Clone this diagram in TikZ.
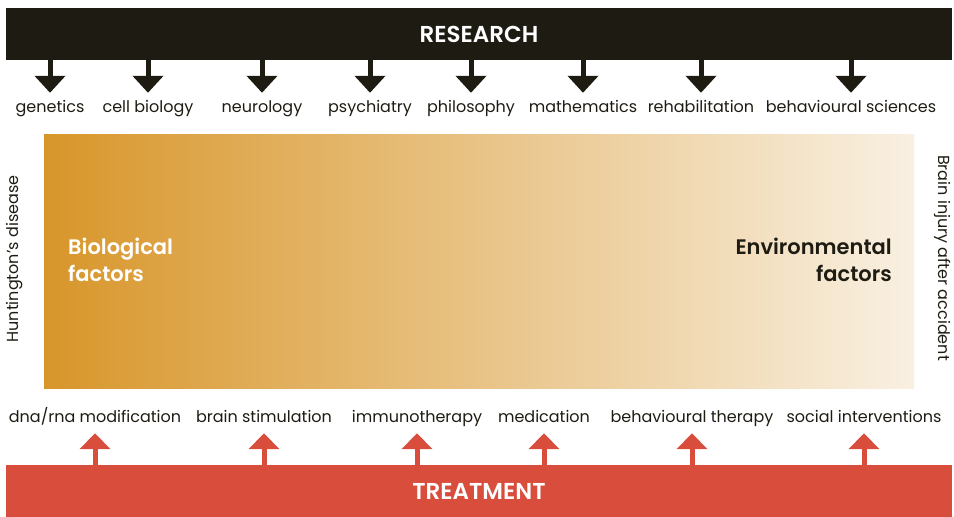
\documentclass[tikz,border=0pt]{standalone}
\usepackage{fontspec}
\setmainfont{Poppins}[BoldFont={Poppins SemiBold}]
\usetikzlibrary{arrows.meta}

\definecolor{barblack}{HTML}{1E1C12}
\definecolor{barred}{HTML}{D94D3D}
\definecolor{bioorange}{HTML}{D8962A}
\definecolor{envcream}{HTML}{F9F0E2}

\tikzset{
  bar/.style={fill=#1, minimum width=946pt, minimum height=52pt, inner sep=0pt,
    text=white, font=\fontsize{23}{24}\selectfont\bfseries},
  field/.style={inner sep=0pt, text height=12pt, text depth=4pt, text=barblack,
    font=\fontsize{16}{20}\selectfont},
  factor/.style={inner sep=0pt, font=\fontsize{21}{27}\selectfont\bfseries},
  down/.style={draw=barblack, line width=5pt, shorten >=7pt,
    -{Triangle[width=30pt,length=17pt]}},
  up/.style={draw=barred, line width=5pt, shorten >=7pt,
    -{Triangle[width=30pt,length=16pt]}},
}

\begin{document}
\begin{tikzpicture}[x=1pt, y=-1pt]
  \useasboundingbox (0,0) rectangle (954,517);

  % the two bars
  \node[bar=barblack] (research) at (479,34) {RESEARCH};
  \node[bar=barred] (treatment) at (479,491) {TREATMENT};

  % research fields, each fed by an arrow from the top bar
  \foreach \x/\name/\txt in {50/gen/genetics, 148/cell/cell biology,
      262/neuro/neurology, 370/psych/psychiatry, 471/philo/philosophy,
      583/math/mathematics, 701/rehab/rehabilitation,
      851/behav/behavioural sciences} {
    \node[field] (\name) at (\x,108) {\txt};
    \draw[down] (research.south -| \name.north) -- (\name.north);
  }

  % from biological to environmental
  \node[minimum width=870pt, minimum height=254pt, inner sep=0pt,
    left color=bioorange, right color=envcream] (spectrum) at (479,261) {};
  \node[factor, text=white, align=left, anchor=north west] (bio) at (68,238)
    {Biological\\factors};
  \node[factor, text=barblack, align=right, anchor=north east] (env) at (892,238)
    {Environmental\\factors};

  % examples at either end
  \node[field, rotate=90] (hunt) at (15,259) {Huntington’s disease};
  \node[field, rotate=-90] (brain) at (942,258) {Brain injury after accident};

  % treatments, each pushed up from the bottom bar
  \foreach \x/\name/\txt in {95/dna/{dna/rna modification},
      264/stim/brain stimulation, 417/immuno/immunotherapy,
      544/med/medication, 692/bther/behavioural therapy,
      864/social/social interventions} {
    \node[field] (\name) at (\x,418) {\txt};
    \draw[up] (treatment.north -| \name.south) -- (\name.south);
  }
\end{tikzpicture}
\end{document}
